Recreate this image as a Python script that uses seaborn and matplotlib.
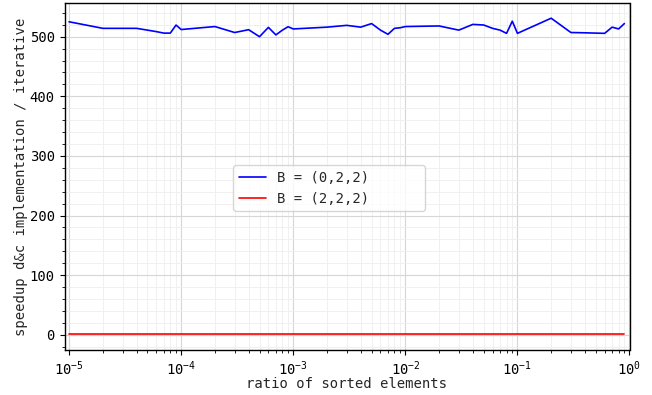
import numpy as np
import pandas as pd
import matplotlib
matplotlib.use("Agg")
import matplotlib.pyplot as plt
from matplotlib.ticker import AutoMinorLocator
import seaborn as sns

ratios = [1e-5, 2e-5, 3e-5, 4e-5, 5e-5, 6e-5, 7e-5, 8e-5, 9e-5,
          1e-4, 2e-4, 3e-4, 4e-4, 5e-4, 6e-4, 7e-4, 8e-4, 9e-4,
          1e-3, 2e-3, 3e-3, 4e-3, 5e-3, 6e-3, 7e-3, 8e-3, 9e-3,
          1e-2, 2e-2, 3e-2, 4e-2, 5e-2, 6e-2, 7e-2, 8e-2, 9e-2,
          1e-1, 2e-1, 3e-1, 4e-1, 5e-1, 6e-1, 7e-1, 8e-1, 9e-1]

speedup_022 = [525, 514, 514, 514, 511, 508.5, 506, 506, 519.5,
               512, 517, 507, 511.7, 500, 515.6, 503, 511, 516.7,
               513, 516, 519, 516, 522, 511, 504, 514, 515,
               517, 518, 511, 520.6, 519.6, 514, 511, 505.6, 526,
               505.6, 531, 507, 506.5, 506, 505.6, 516, 513, 522]

speedup_222 = [1.0, 1.0, 1.0, 1.0, 1.0, 1.0, 1.0, 1.0, 1.0,
               1.0, 1.0, 1.0, 1.0, 1.0, 1.0, 1.0, 1.0, 1.0,
               1.0, 1.0, 1.0, 1.0, 1.0, 1.0, 1.0, 1.0, 1.0,
               1.0, 1.0, 1.0, 1.0, 1.0, 1.0, 1.0, 1.0, 1.0,
               1.0, 1.0, 1.0, 1.0, 1.0, 1.0, 1.0, 1.0, 1.0]

labels = ["B = (0,2,2)", "B = (2,2,2)"]

df = pd.DataFrame({
    "ratio": ratios * 2,
    "speedup": speedup_022 + speedup_222,
    "config": [labels[0]] * len(ratios) + [labels[1]] * len(ratios),
})

sns.set_style("ticks")
plt.rcParams["font.family"] = ["DejaVu Sans Mono", "DejaVu Sans"]
plt.rcParams["font.size"] = 10

fig = plt.figure(figsize=(6.52, 3.95), dpi=100)
ax = fig.add_axes([64.5 / 652, 1 - 350 / 395, 565 / 652, 347 / 395])

sns.lineplot(data=df, x="ratio", y="speedup", hue="config",
             palette={labels[0]: "#0000ff", labels[1]: "#ff0000"},
             linewidth=1.2, ax=ax, legend=True)

ax.set_xscale("log")
ax.set_xlim(9.1e-6, 1.0)
ax.set_ylim(-25.5, 556.5)
ax.yaxis.set_minor_locator(AutoMinorLocator(5))

ax.grid(which="major", color="#d6d6d6", linewidth=0.8)
ax.grid(which="minor", color="#eeeeee", linewidth=0.6)
ax.set_axisbelow(True)

for s in ax.spines.values():
    s.set_color("black")
    s.set_linewidth(1.0)
ax.tick_params(which="both", direction="out", colors="black", labelsize=10)
ax.tick_params(which="major", length=3.5, width=0.8)
ax.tick_params(which="minor", length=2, width=0.6)

ax.set_xlabel("ratio of sorted elements", fontsize=10, labelpad=-1)
ax.set_ylabel("speedup d&c implementation / iterative", fontsize=10, labelpad=1)

leg = ax.legend(loc="upper left", bbox_to_anchor=(0.2982, 0.40, 0.3398, 0.133),
                mode="expand", borderaxespad=0, fontsize=10, frameon=True)
leg.get_frame().set_edgecolor("#cccccc")

fig.savefig("out.png", dpi=100)
